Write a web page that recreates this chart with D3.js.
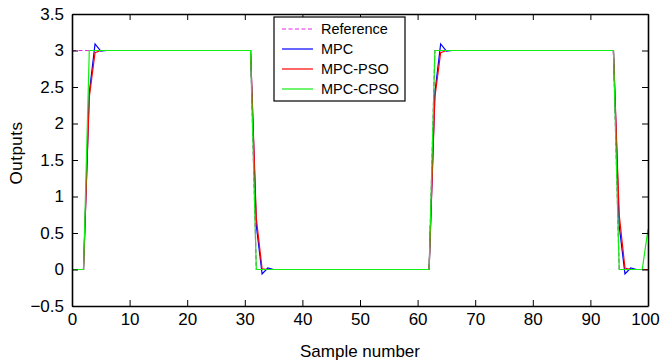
<!DOCTYPE html>
<html>
<head>
<meta charset="utf-8">
<script src="https://cdn.jsdelivr.net/npm/d3@7"></script>
<style>
  body { margin: 0; background: #fff; }
  svg text { font-family: "Liberation Sans", Arial, Helvetica, sans-serif; fill: #000; }
</style>
</head>
<body>
<svg width="660" height="362"></svg>
<script>
// [sample, output] (flat runs kept as their end points)
var reference = [[0, 3], [31, 3], [32, 0], [62, 0], [63, 3], [94, 3], [95, 0], [100, 0]];
var mpc = [[0, 0], [2, 0], [3, 2.42], [4, 3.09], [5, 2.99], [6, 3], [31, 3], [32, 0.6], [33, -0.06], [34, 0.02], [35, 0],
           [62, 0], [63, 2.42], [64, 3.09], [65, 2.99], [66, 3], [94, 3], [95, 0.6], [96, -0.06], [97, 0.02], [98, 0], [100, 0]];
var mpcPso = [[0, 0], [2, 0], [3, 2.36], [4, 2.97], [5, 3], [31, 3], [32, 0.7], [33, 0.01], [34, 0],
              [62, 0], [63, 2.36], [64, 2.97], [65, 3], [94, 3], [95, 0.75], [96, 0.02], [97, 0], [100, 0]];
var mpcCpso = [[0, 0], [2, 0], [3, 3], [31, 3], [32, 0], [62, 0], [63, 3], [94, 3], [95, 0], [99, 0], [100, 0.55]];

var xTicks = [0, 10, 20, 30, 40, 50, 60, 70, 80, 90, 100];
var yTicks = [-0.5, 0, 0.5, 1, 1.5, 2, 2.5, 3, 3.5];
var seriesNames = ["Reference", "MPC", "MPC-PSO", "MPC-CPSO"];

window.addEventListener("DOMContentLoaded", function () {
    drawChart();
});

function drawChart() {
    var svg = d3.select("svg"),
        left = 72, right = 648, top = 14, bottom = 306;

    var x = d3.scaleLinear().domain([0, 100]).range([left, right]);
    var y = d3.scaleLinear().domain([-0.5, 3.5]).range([bottom, top]);

    var series = [
        {name: seriesNames[0], data: reference, color: "#ee22ee", dash: "4,2.5"},
        {name: seriesNames[1], data: mpc, color: "#0000ff", dash: null},
        {name: seriesNames[2], data: mpcPso, color: "#ff0000", dash: null},
        {name: seriesNames[3], data: mpcCpso, color: "#11ee11", dash: null}
    ];

    svg.append("defs").append("clipPath").attr("id", "plot")
        .append("rect")
        .attr("x", left).attr("y", top)
        .attr("width", right - left).attr("height", bottom - top);

    var line = d3.line()
        .x(function(d) { return x(d[0]); })
        .y(function(d) { return y(d[1]); });

    svg.append("g").attr("clip-path", "url(#plot)")
        .selectAll("path")
        .data(series)
        .enter()
        .append("path")
        .attr("d", function(d) { return line(d.data); })
        .attr("fill", "none")
        .attr("stroke", function(d) { return d.color; })
        .attr("stroke-width", 1.2)
        .attr("stroke-dasharray", function(d) { return d.dash; });

    var fmt = function(d) { return d < 0 ? "\u2212" + Math.abs(d) : d; };

    // bottom + left axes, ticks pointing in
    svg.append("g")
        .attr("transform", "translate(0," + bottom + ")")
        .call(d3.axisBottom(x).tickValues(xTicks).tickSizeInner(-6).tickSizeOuter(0).tickPadding(7))
        .call(styleAxis)
        .selectAll(".tick text")
        .attr("dx", function(d) { return d === 100 ? "-3" : null; });

    svg.append("g")
        .attr("transform", "translate(" + left + ",0)")
        .call(d3.axisLeft(y).tickValues(yTicks).tickFormat(fmt).tickSizeInner(-6).tickSizeOuter(0).tickPadding(8))
        .call(styleAxis);

    // top + right, ticks only
    svg.append("g")
        .attr("transform", "translate(0," + top + ")")
        .call(d3.axisTop(x).tickValues(xTicks).tickSizeInner(-6).tickSizeOuter(0).tickFormat(""))
        .call(styleAxis);

    svg.append("g")
        .attr("transform", "translate(" + right + ",0)")
        .call(d3.axisRight(y).tickValues(yTicks).tickSizeInner(-6).tickSizeOuter(0).tickFormat(""))
        .call(styleAxis);

    svg.append("text")
        .attr("x", 360)
        .attr("y", 357)
        .attr("text-anchor", "middle")
        .style("font-size", "17px")
        .text("Sample number");

    svg.append("text")
        .attr("transform", "translate(22,153)rotate(-90)")
        .attr("text-anchor", "middle")
        .style("font-size", "17px")
        .style("letter-spacing", "0.5px")
        .text("Outputs");

    // legend
    var lg = svg.append("g").attr("transform", "translate(274,17)");
    lg.append("rect")
        .attr("width", 131).attr("height", 84)
        .attr("fill", "#fff").attr("stroke", "#000").attr("stroke-width", 1.2);

    var item = lg.selectAll("g.item")
        .data(series)
        .enter()
        .append("g")
        .attr("class", "item")
        .attr("transform", function(d, i) { return "translate(0," + (12 + i * 20) + ")"; });

    item.append("line")
        .attr("x1", 8).attr("x2", 39)
        .attr("stroke", function(d) { return d.color; })
        .attr("stroke-width", 1.2)
        .attr("stroke-dasharray", function(d) { return d.dash; });

    item.append("text")
        .attr("x", 47).attr("dy", "0.35em")
        .style("font-size", "14.5px")
        .text(function(d) { return d.name; });
}

function styleAxis(g) {
    g.select(".domain").attr("stroke", "#000").attr("stroke-width", 1.6);
    g.selectAll(".tick line").attr("stroke", "#000").attr("stroke-width", 1);
    g.selectAll(".tick text").style("font-size", "17px");
}
</script>
</body>
</html>
